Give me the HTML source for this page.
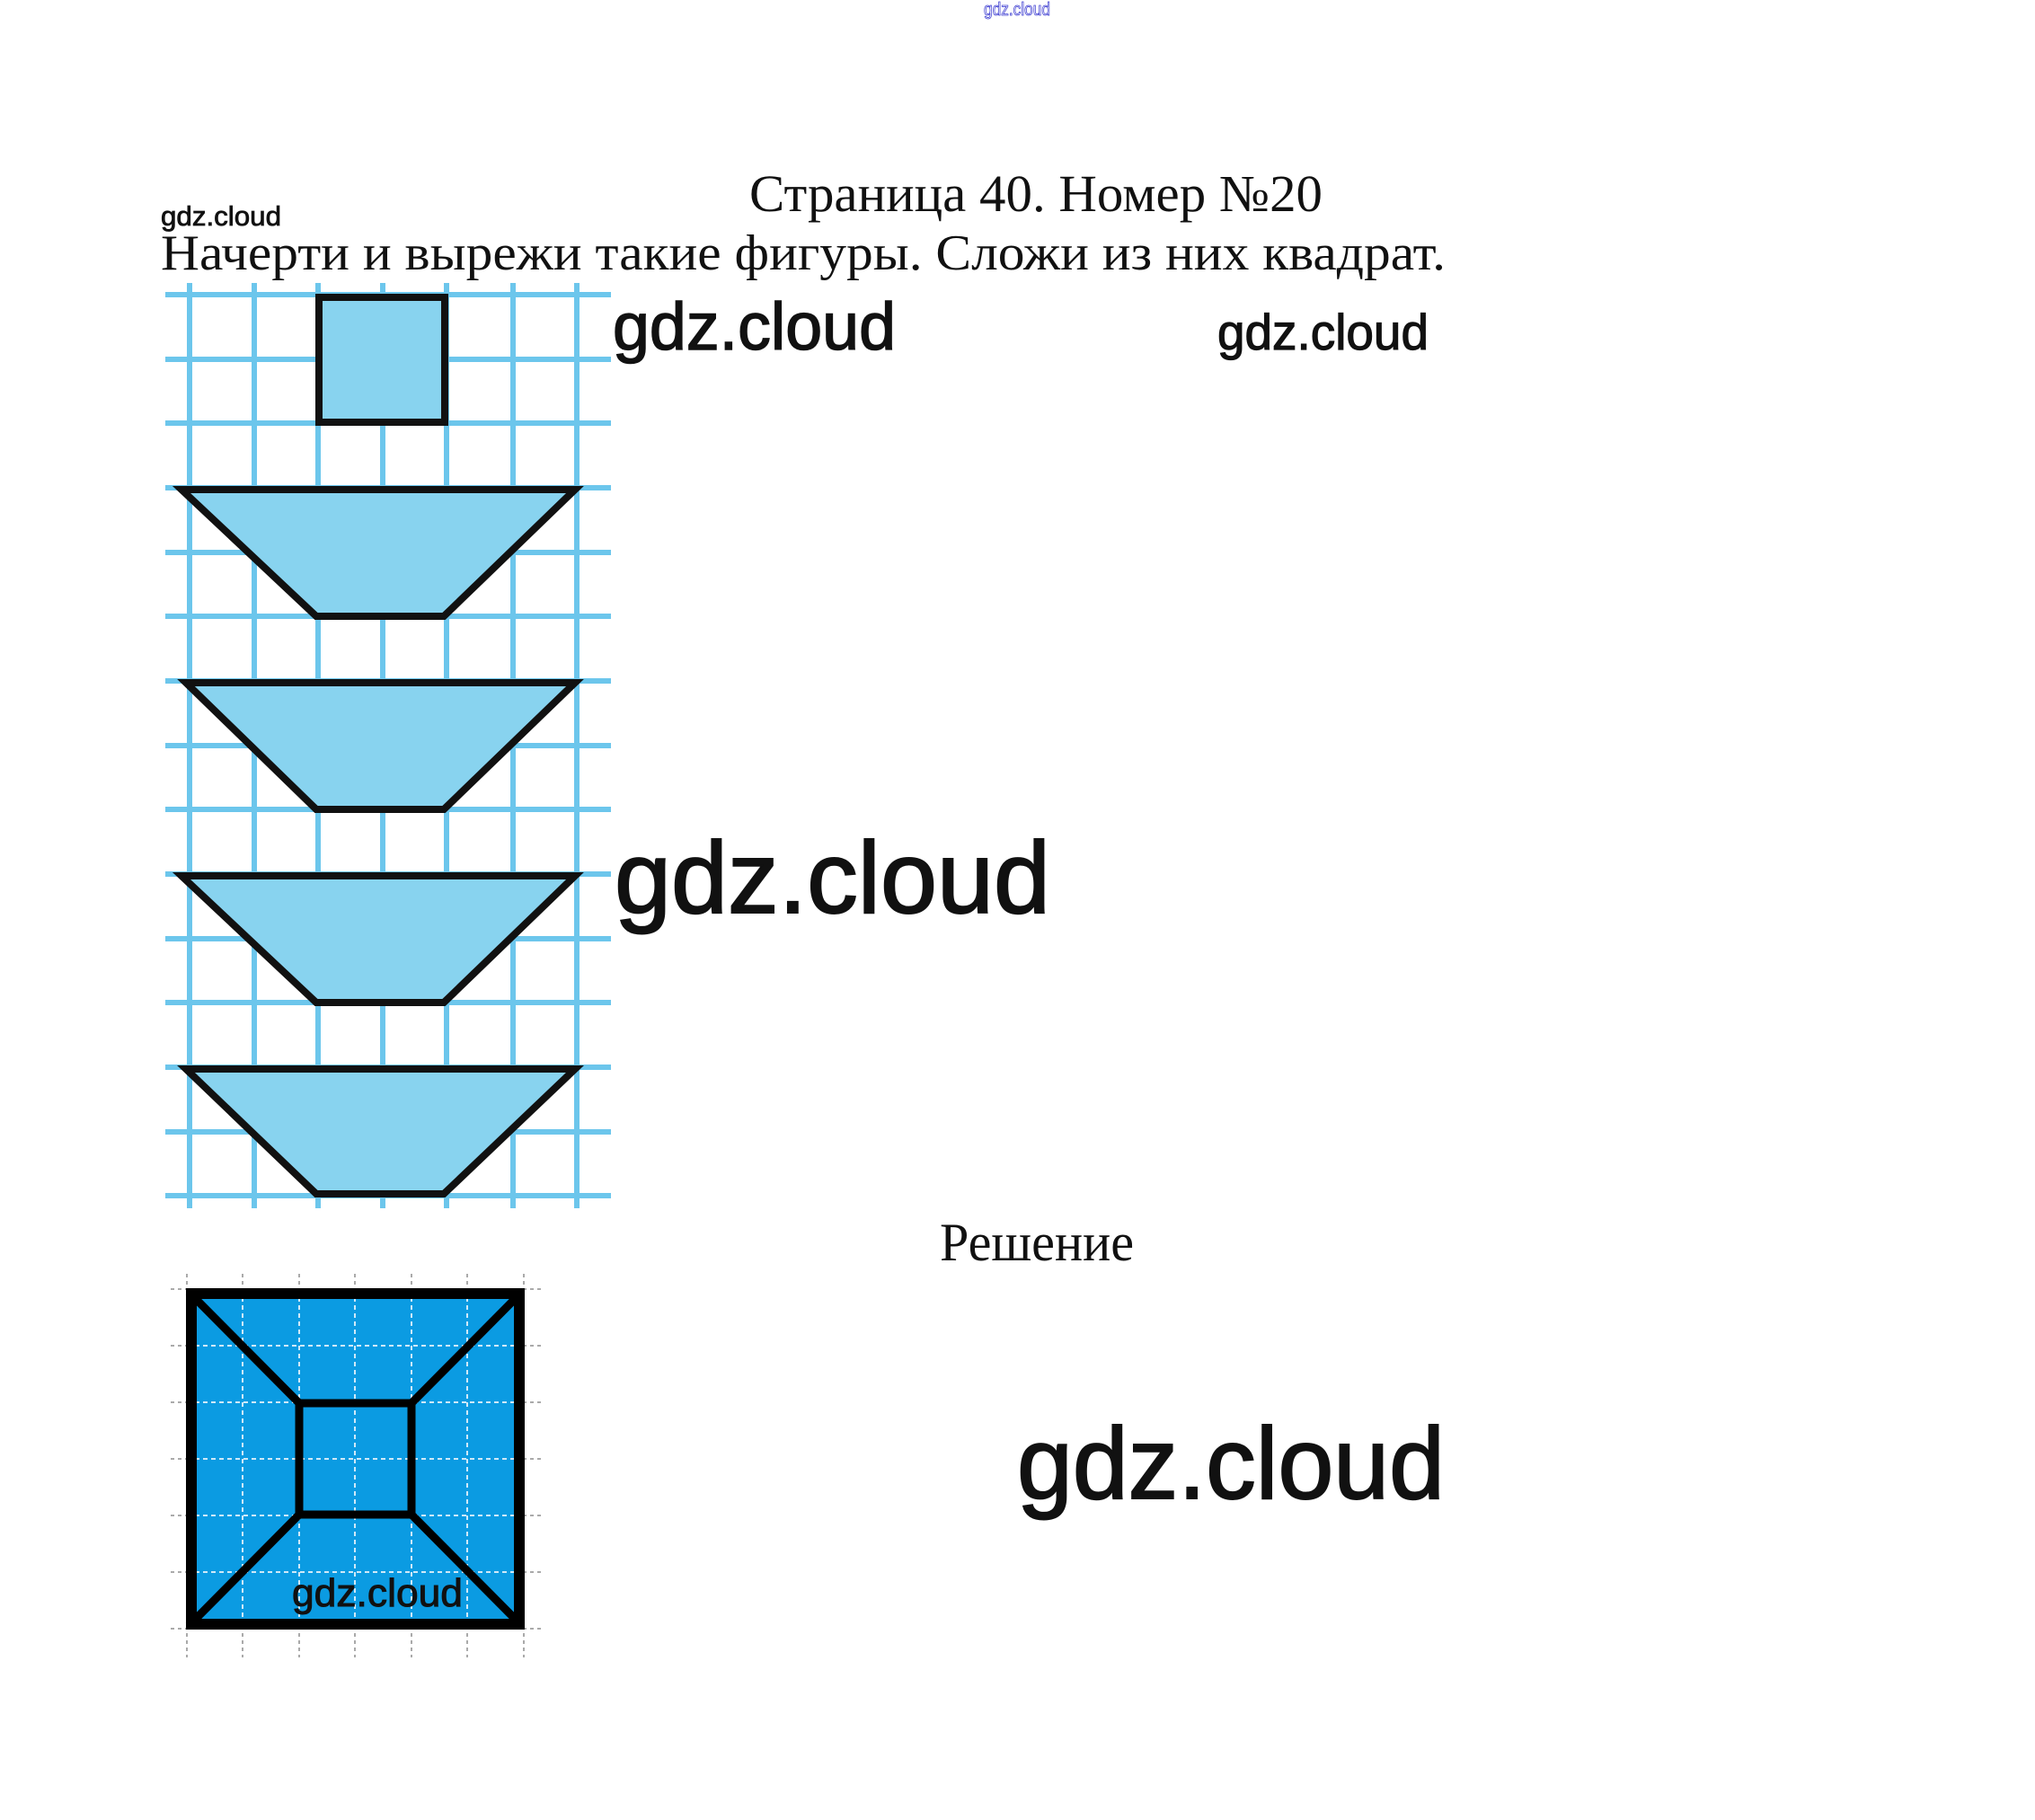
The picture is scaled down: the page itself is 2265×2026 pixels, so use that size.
<!DOCTYPE html>
<html><head><meta charset="utf-8"><style>
html,body{margin:0;padding:0;background:#fff;}
svg{display:block;}
</style></head><body>
<svg width="2265" height="2026" viewBox="0 0 2265 2026" xmlns="http://www.w3.org/2000/svg">
<rect width="2265" height="2026" fill="#fff"/>
<text x="1095" y="17" font-family="Liberation Sans, sans-serif" font-size="20" fill="#fff" stroke="#3a3ad0" stroke-width="0.8" textLength="74" lengthAdjust="spacingAndGlyphs">gdz.cloud</text>

<text x="834" y="235" font-family="Liberation Serif, serif" font-size="58" fill="#111" textLength="638" lengthAdjust="spacingAndGlyphs">Страница 40. Номер №20</text>
<text x="179" y="251" font-family="Liberation Sans, sans-serif" font-size="31" fill="#111" stroke="#111" stroke-width="0.8" textLength="134" lengthAdjust="spacingAndGlyphs">gdz.cloud</text>
<text x="179" y="300" font-family="Liberation Serif, serif" font-size="56" fill="#111" textLength="1430" lengthAdjust="spacingAndGlyphs">Начерти и вырежи такие фигуры. Сложи из них квадрат.</text>

<!-- grid -->
<g stroke="#6cc6ec" stroke-width="6">
<line x1="211" y1="315" x2="211" y2="1345"/><line x1="283" y1="315" x2="283" y2="1345"/>
<line x1="354" y1="315" x2="354" y2="1345"/><line x1="426" y1="315" x2="426" y2="1345"/>
<line x1="497" y1="315" x2="497" y2="1345"/><line x1="571" y1="315" x2="571" y2="1345"/>
<line x1="642" y1="315" x2="642" y2="1345"/>
<line x1="184" y1="328" x2="680" y2="328"/><line x1="184" y1="400" x2="680" y2="400"/>
<line x1="184" y1="471" x2="680" y2="471"/><line x1="184" y1="543" x2="680" y2="543"/>
<line x1="184" y1="615" x2="680" y2="615"/><line x1="184" y1="686" x2="680" y2="686"/>
<line x1="184" y1="758" x2="680" y2="758"/><line x1="184" y1="830" x2="680" y2="830"/>
<line x1="184" y1="901" x2="680" y2="901"/><line x1="184" y1="973" x2="680" y2="973"/>
<line x1="184" y1="1045" x2="680" y2="1045"/><line x1="184" y1="1116" x2="680" y2="1116"/>
<line x1="184" y1="1188" x2="680" y2="1188"/><line x1="184" y1="1260" x2="680" y2="1260"/>
<line x1="184" y1="1331" x2="680" y2="1331"/>
</g>
<g fill="#88d3ef" stroke="#111" stroke-width="8" stroke-linejoin="miter">
<rect x="355" y="331" width="140" height="139"/>
<polygon points="202,545 640,545 494,686 352,686"/>
<polygon points="207,760 640,760 494,901 352,901"/>
<polygon points="202,975 640,975 494,1116 352,1116"/>
<polygon points="207,1190 640,1190 494,1329 352,1329"/>
</g>

<g font-family="Liberation Sans, sans-serif" fill="#111" stroke="#111">
<text x="682" y="389" font-size="74" stroke-width="1.5" textLength="315" lengthAdjust="spacingAndGlyphs">gdz.cloud</text>
<text x="1355" y="389" font-size="56" stroke-width="1.2" textLength="235" lengthAdjust="spacingAndGlyphs">gdz.cloud</text>
<text x="684" y="1016" font-size="113" stroke-width="2" textLength="485" lengthAdjust="spacingAndGlyphs">gdz.cloud</text>
<text x="1132" y="1668" font-size="113" stroke-width="2" textLength="476" lengthAdjust="spacingAndGlyphs">gdz.cloud</text>
</g>
<text x="1046" y="1403" font-family="Liberation Serif, serif" font-size="60" fill="#111" textLength="216" lengthAdjust="spacingAndGlyphs">Решение</text>

<!-- solution -->
<g stroke="#aaa" stroke-width="2" stroke-dasharray="4,4">
<line x1="208" y1="1418" x2="208" y2="1845"/><line x1="270" y1="1418" x2="270" y2="1845"/>
<line x1="333" y1="1418" x2="333" y2="1845"/><line x1="395" y1="1418" x2="395" y2="1845"/>
<line x1="458" y1="1418" x2="458" y2="1845"/><line x1="520" y1="1418" x2="520" y2="1845"/>
<line x1="583" y1="1418" x2="583" y2="1845"/>
<line x1="190" y1="1435" x2="602" y2="1435"/><line x1="190" y1="1498" x2="602" y2="1498"/>
<line x1="190" y1="1561" x2="602" y2="1561"/><line x1="190" y1="1624" x2="602" y2="1624"/>
<line x1="190" y1="1687" x2="602" y2="1687"/><line x1="190" y1="1750" x2="602" y2="1750"/>
<line x1="190" y1="1813" x2="602" y2="1813"/>
</g>
<rect x="208" y="1435" width="375" height="378" fill="#0b9be2"/>
<g stroke="#cfe9f8" stroke-width="2" stroke-dasharray="5,4">
<line x1="270" y1="1435" x2="270" y2="1813"/><line x1="333" y1="1435" x2="333" y2="1813"/>
<line x1="395" y1="1435" x2="395" y2="1813"/><line x1="458" y1="1435" x2="458" y2="1813"/>
<line x1="520" y1="1435" x2="520" y2="1813"/>
<line x1="208" y1="1498" x2="583" y2="1498"/><line x1="208" y1="1561" x2="583" y2="1561"/>
<line x1="208" y1="1624" x2="583" y2="1624"/><line x1="208" y1="1687" x2="583" y2="1687"/>
<line x1="208" y1="1750" x2="583" y2="1750"/>
</g>
<g stroke="#000" stroke-width="9" fill="none">
<line x1="210" y1="1438" x2="333" y2="1562"/><line x1="581" y1="1438" x2="458" y2="1562"/>
<line x1="210" y1="1810" x2="333" y2="1686"/><line x1="581" y1="1810" x2="458" y2="1686"/>
<rect x="333" y="1562" width="125" height="124" stroke-width="9"/>
<rect x="213" y="1440" width="365" height="368" stroke-width="12"/>
</g>
<text x="325" y="1788" font-family="Liberation Sans, sans-serif" font-size="44" fill="#111" stroke="#111" stroke-width="1" textLength="190" lengthAdjust="spacingAndGlyphs">gdz.cloud</text>
</svg>
</body></html>
